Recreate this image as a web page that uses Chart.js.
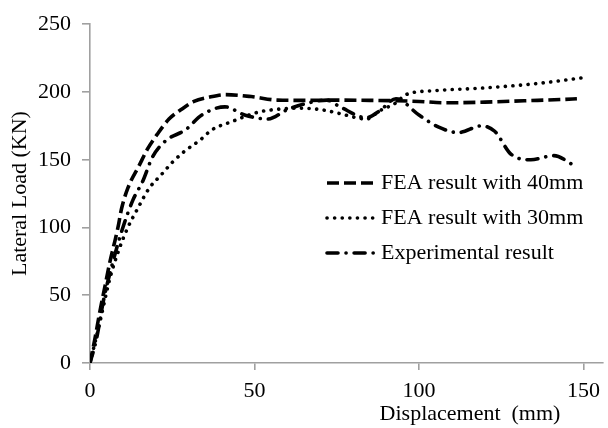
<!DOCTYPE html>
<html>
<head>
<meta charset="utf-8">
<script src="https://cdn.jsdelivr.net/npm/chart.js@4"></script>
<style>
html,body{margin:0;padding:0;background:#fff;}
#wrap{width:608px;height:428px;position:relative;}
</style>
</head>
<body>
<div id="wrap"><canvas id="c" width="608" height="428"></canvas></div>
<script>
// ---- data ----
const xTicks = [0, 50, 100, 150];
const yTicks = [0, 50, 100, 150, 200, 250];

const fea40X = [0, 1.5, 3, 4.5, 6, 8.5, 9.6, 11.5, 15, 17.5, 20.5, 24, 27.7, 31.6, 36, 41, 49, 57, 65, 75, 85, 93, 100, 108, 120, 132, 144, 148];
const fea40Y = [0, 18, 38, 56, 74, 100, 114, 129, 146, 158, 169, 180, 187, 193, 196, 198, 196.6, 194, 193.8, 194, 193.8, 193.5, 193, 192, 192.5, 193.5, 194.5, 195];

const fea30X = [0, 3, 6, 9, 11.5, 14.5, 18, 21.7, 25, 28.6, 33.7, 37, 43, 51, 56, 64, 70, 76, 81, 84, 88, 93, 96, 105, 120, 135, 150];
const fea30Y = [0, 30, 62, 85, 100, 114, 129, 139, 148, 156, 165, 172, 178, 185, 187, 188, 187, 184, 181, 180, 186, 192, 198, 201, 203, 206, 210.5];

const expX = [0, 2, 4, 7, 10, 13, 16, 19, 23, 29, 34, 41, 47, 54, 60, 65, 72, 76, 84, 88, 93, 100, 106, 112, 119, 123, 128, 134, 141, 147];
const expY = [0, 18, 45, 75, 100, 120, 134, 152, 164, 172, 183, 189, 183, 180, 187, 191, 194, 189, 181, 186, 195, 183, 174, 170, 175, 171, 154, 150, 153, 146];

const seriesNames = ["FEA result with 40mm", "FEA result with 30mm", "Experimental result"];
const xTitle = "Displacement  (mm)";
const yTitle = "Lateral Load (KN)";

const pts = (xs, ys) => xs.map((x, i) => ({x: x, y: ys[i]}));

const FONT = "'Liberation Serif', 'Times New Roman', serif";
const AXIS = "#a0a0a0";

const dashes = [[12, 5], [0.1, 7.5], [11, 8, 0.1, 8]];
const caps = ["butt", "round", "round"];

const datasets = [
  {label: seriesNames[0], data: pts(fea40X, fea40Y)},
  {label: seriesNames[1], data: pts(fea30X, fea30Y)},
  {label: seriesNames[2], data: pts(expX, expY)}
].map((d, i) => Object.assign(d, {
  borderColor: "#000",
  backgroundColor: "#000",
  borderWidth: 3.6,
  borderDash: dashes[i],
  borderCapStyle: caps[i],
  pointRadius: 0,
  fill: false,
  cubicInterpolationMode: "monotone"
}));

const overlay = {
  id: "overlay",
  afterDraw(chart) {
    const ctx = chart.ctx;
    const xs = chart.scales.x;
    ctx.save();
    // x axis title
    ctx.fillStyle = "#000";
    ctx.font = "22px " + FONT;
    ctx.textAlign = "center";
    ctx.textBaseline = "middle";
    ctx.fillText(xTitle, xs.getPixelForValue(115.5), 414);
    // legend
    const rowsY = [183, 218, 253];
    seriesNames.forEach((name, i) => {
      const y = rowsY[i];
      ctx.strokeStyle = "#000";
      ctx.lineWidth = 3.6;
      ctx.lineCap = caps[i];
      ctx.setLineDash(dashes[i]);
      ctx.beginPath();
      ctx.moveTo(327, y);
      ctx.lineTo(374, y);
      ctx.stroke();
      ctx.setLineDash([]);
      ctx.textAlign = "left";
      ctx.font = "22px " + FONT;
      ctx.fillStyle = "#000";
      ctx.fillText(name, 381, y);
    });
    ctx.restore();
  }
};

new Chart(document.getElementById("c"), {
  type: "line",
  data: {datasets: datasets},
  options: {
    responsive: false,
    animation: false,
    devicePixelRatio: 1,
    layout: {padding: {top: 21, right: 0, bottom: 0, left: 0}},
    plugins: {legend: {display: false}, tooltip: {enabled: false}},
    scales: {
      x: {
        type: "linear",
        min: 0,
        max: 156,
        afterBuildTicks(s) { s.ticks = xTicks.map(v => ({value: v})); },
        afterFit(s) { s.height = 65; },
        border: {color: AXIS, width: 1.6},
        grid: {drawOnChartArea: false, color: AXIS, tickLength: 7, lineWidth: 1.6},
        ticks: {color: "#000", font: {family: FONT, size: 22}, padding: 8, maxRotation: 0}
      },
      y: {
        type: "linear",
        min: 0,
        max: 250,
        afterBuildTicks(s) { s.ticks = yTicks.map(v => ({value: v})); },
        afterFit(s) { s.width = 90; },
        border: {color: AXIS, width: 1.6},
        grid: {drawOnChartArea: false, color: AXIS, tickLength: 8, lineWidth: 1.6},
        ticks: {color: "#000", font: {family: FONT, size: 22}, padding: 11},
        title: {display: true, text: yTitle, color: "#000", font: {family: FONT, size: 22}, padding: {top: 7, bottom: 0}}
      }
    }
  },
  plugins: [overlay]
});
</script>
</body>
</html>
